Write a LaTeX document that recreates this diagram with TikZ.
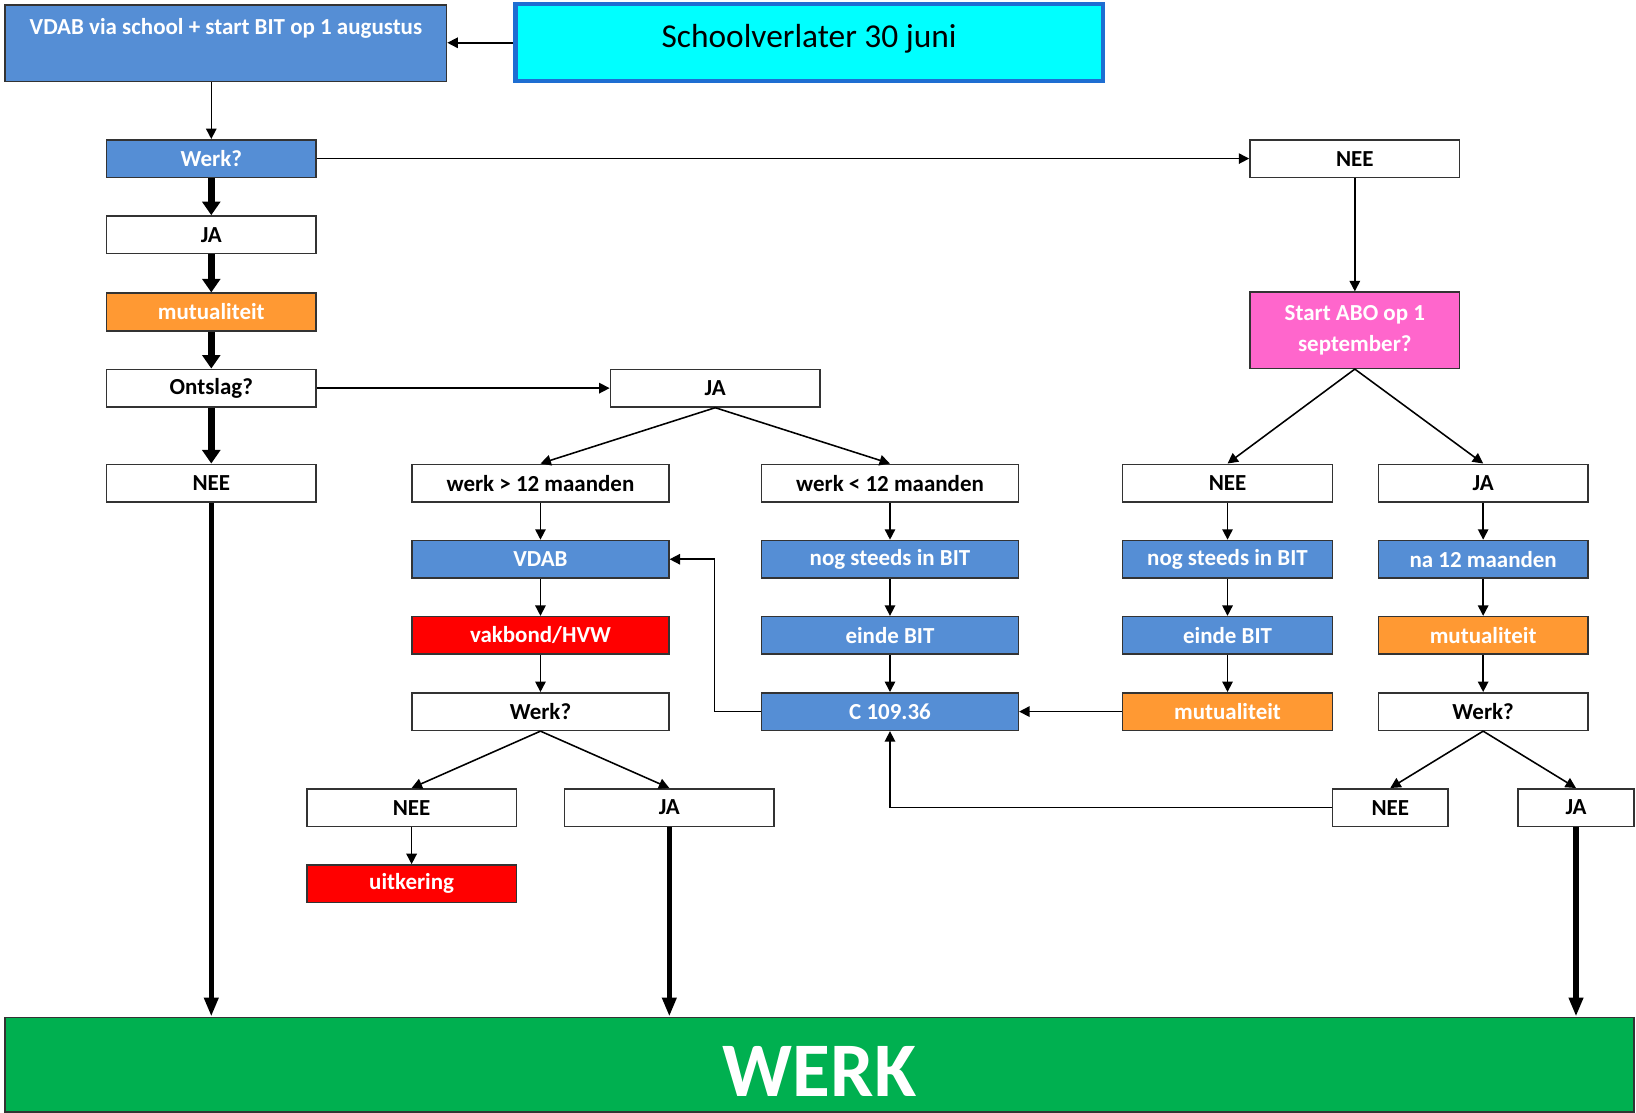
\documentclass[tikz,border=0pt]{standalone}
\usepackage{fontspec}
\setmainfont{Carlito}
\usetikzlibrary{arrows.meta}

\definecolor{boxblue}{RGB}{85,142,213}
\definecolor{boxorange}{RGB}{255,153,51}
\definecolor{boxpink}{RGB}{255,102,204}
\definecolor{boxgreen}{RGB}{0,176,80}
\definecolor{schoolblue}{RGB}{30,110,210}
\definecolor{schoolcyan}{RGB}{0,255,255}

\begin{document}
\begin{tikzpicture}[x=0.5pt,y=-0.5pt,->,>={Triangle[length=5pt,width=5pt]},line width=0.75pt,
		box/.style={draw=black!80,line width=0.75pt,minimum width=100.5pt,minimum height=18pt,inner sep=0pt,
			font=\fontsize{11}{15}\selectfont\bfseries},
		plain box/.style={box,fill=white,text=black},
		blue box/.style={box,fill=boxblue,text=white},
		orange box/.style={box,fill=boxorange,text=white},
		red box/.style={box,fill=red,text=white},
		pink box/.style={box,fill=boxpink,text=white,align=center,minimum height=36.5pt},
		wide/.style={minimum width=123pt},
		small/.style={minimum width=55.5pt},
		thick arrow/.style={line width=3.2pt,-{Triangle[length=6.5pt,width=8.5pt]}},
		long arrow/.style={line width=2.5pt,-{Triangle[length=9pt,width=6.5pt]}}]

		\useasboundingbox (0,0) rectangle (1568,1066);

		% top row
		\node[blue box,minimum width=211.5pt,minimum height=36.5pt,text height=14pt,text depth=22.5pt] (vdabschool) at (216.5,41.5) {VDAB via school + start BIT op 1 augustus};
		\node[draw=schoolblue,line width=2pt,fill=schoolcyan,minimum width=281.5pt,minimum height=37pt,inner sep=0pt,
			text height=21pt,text depth=16pt,font=\fontsize{16}{18}\selectfont] (school) at (775.5,41) {Schoolverlater 30 juni};

		% left column
		\node[blue box] (werk1) at (202.5,152) {Werk?};
		\node[plain box] (ja1) at (202.5,225) {JA};
		\node[orange box] (mut1) at (202.5,299) {mutualiteit};
		\node[plain box] (ontslag) at (202.5,372) {Ontslag?};
		\node[plain box] (nee1) at (202.5,463) {NEE};

		% ontslag branch
		\node[plain box] (ja2) at (685.5,372) {JA};
		\node[plain box,wide] (meer) at (518,463) {werk > 12 maanden};
		\node[plain box,wide] (minder) at (853,463) {werk < 12 maanden};
		\node[blue box,wide] (vdab) at (518,536) {VDAB};
		\node[red box,wide] (vakbond) at (518,609) {vakbond/HVW};
		\node[plain box,wide] (werk2) at (518,682) {Werk?};
		\node[plain box] (nee3) at (394.5,774) {NEE};
		\node[plain box] (ja3) at (641.5,774) {JA};
		\node[red box] (uitk) at (394.5,847) {uitkering};
		\node[blue box,wide] (bit1) at (853,536) {nog steeds in BIT};
		\node[blue box,wide] (einde1) at (853,609) {einde BIT};
		\node[blue box,wide] (c109) at (853,682) {C 109.36};

		% right part
		\node[plain box] (nee2) at (1298.5,152) {NEE};
		\node[pink box] (abo) at (1298.5,316.5) {Start ABO op 1\\september?};
		\node[plain box] (nee4) at (1176.5,463) {NEE};
		\node[plain box] (ja4) at (1421.5,463) {JA};
		\node[blue box] (bit2) at (1176.5,536) {nog steeds in BIT};
		\node[blue box] (einde2) at (1176.5,609) {einde BIT};
		\node[orange box] (mut2) at (1176.5,682) {mutualiteit};
		\node[blue box] (na12) at (1421.5,536) {na 12 maanden};
		\node[orange box] (mut3) at (1421.5,609) {mutualiteit};
		\node[plain box] (werk3) at (1421.5,682) {Werk?};
		\node[plain box,small] (nee5) at (1332.5,774) {NEE};
		\node[plain box,small] (ja5) at (1510.5,774) {JA};

		% goal
		\node[draw=black!80,fill=boxgreen,text=white,minimum width=780.5pt,minimum height=45.5pt,inner sep=0pt,
			text height=38pt,text depth=7.5pt,font=\fontsize{37}{40}\selectfont\bfseries] (werk) at (785.5,1020.5) {WERK};

		\draw (school.west) -- (school.west -| vdabschool.east);
		\draw (werk1.north |- vdabschool.south) -- (werk1.north);
		\draw (werk1) -- (nee2);
		\draw (nee2) -- (abo);
		\draw[thick arrow] (werk1) -- (ja1);
		\draw[thick arrow] (ja1) -- (mut1);
		\draw[thick arrow] (mut1) -- (ontslag);
		\draw[thick arrow] (ontslag) -- (nee1);
		\draw[long arrow] (nee1.south) -- (nee1.south |- werk.north);
		\draw (ontslag) -- (ja2);
		\draw (ja2.south) -- (meer.north);
		\draw (ja2.south) -- (minder.north);
		\draw (meer) -- (vdab);
		\draw (vdab) -- (vakbond);
		\draw (vakbond) -- (werk2);
		\draw (werk2.south) -- (nee3.north);
		\draw (werk2.south) -- (ja3.north);
		\draw (nee3) -- (uitk);
		\draw[long arrow] (ja3.south) -- (ja3.south |- werk.north);
		\draw (minder) -- (bit1);
		\draw (bit1) -- (einde1);
		\draw (einde1) -- (c109);
		\draw (c109.west) -- ++(-44.5,0) |- (vdab.east);
		\draw (abo.south) -- (nee4.north);
		\draw (abo.south) -- (ja4.north);
		\draw (nee4) -- (bit2);
		\draw (bit2) -- (einde2);
		\draw (einde2) -- (mut2);
		\draw (mut2) -- (c109);
		\draw (ja4) -- (na12);
		\draw (na12) -- (mut3);
		\draw (mut3) -- (werk3);
		\draw (werk3.south) -- (nee5.north);
		\draw (werk3.south) -- (ja5.north);
		\draw (nee5.west) -| (c109.south);
		\draw[long arrow] (ja5.south) -- (ja5.south |- werk.north);

\end{tikzpicture}
\end{document}
